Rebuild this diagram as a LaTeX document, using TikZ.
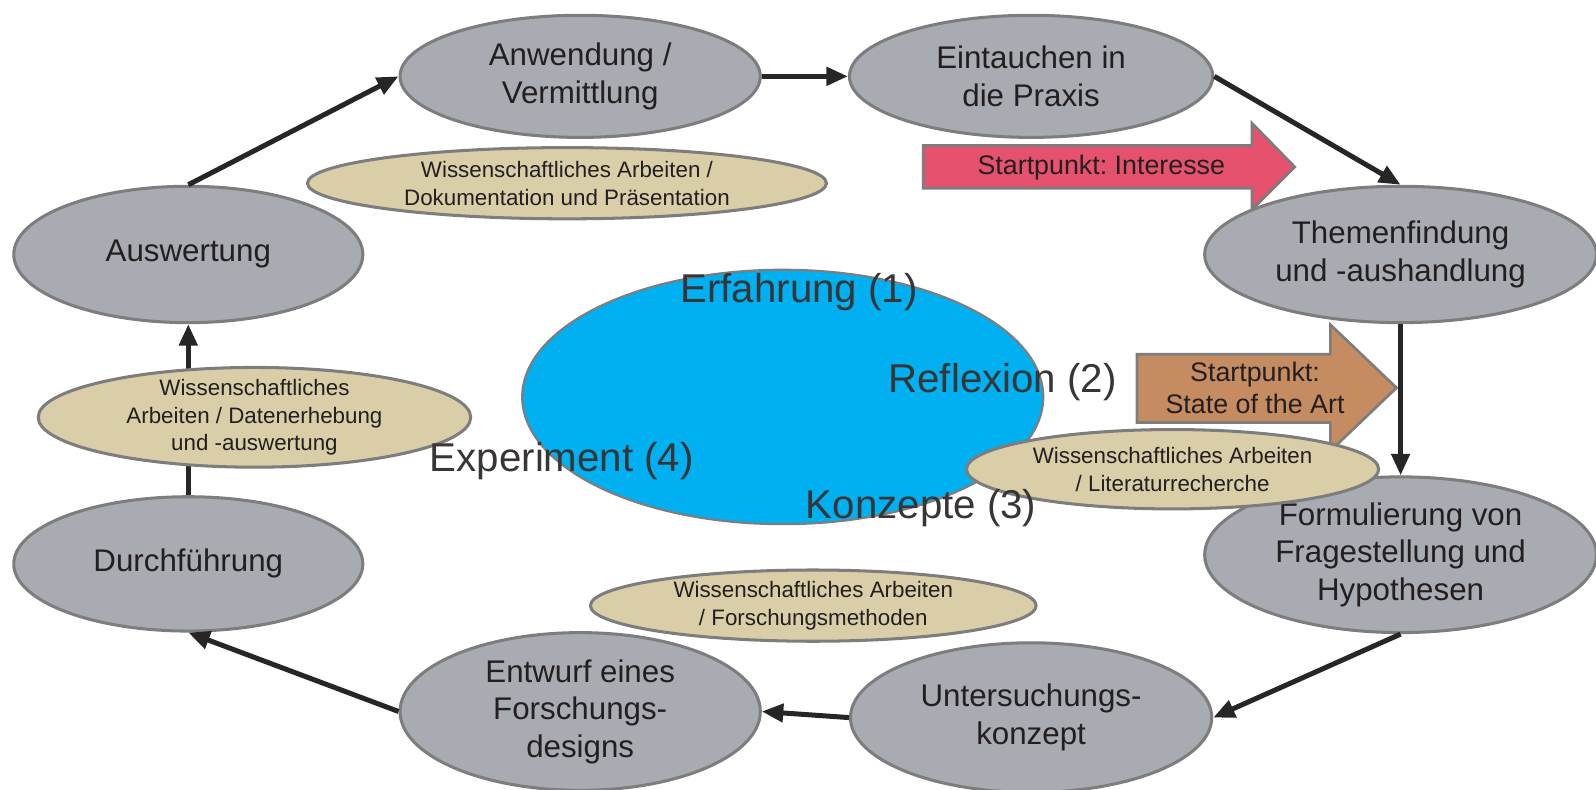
\documentclass[tikz,border=0pt]{standalone}
\usepackage{fontspec}
\setmainfont{Liberation Sans}
\frenchspacing
\usetikzlibrary{shapes.geometric,arrows.meta,positioning}
\definecolor{stepgray}{RGB}{168,171,178}
\definecolor{edgegray}{RGB}{125,125,125}
\definecolor{methodbeige}{RGB}{218,206,168}
\definecolor{cycleblue}{RGB}{0,176,240}
\definecolor{interestpink}{RGB}{230,82,110}
\definecolor{artbrown}{RGB}{196,140,96}
\definecolor{textdark}{RGB}{35,31,32}
\tikzstyle{phase}=[ellipse,draw=edgegray,line width=1.7pt,fill=stepgray,text=textdark,align=center,inner sep=0pt,font=\fontsize{17.5}{21}\selectfont]
\tikzstyle{method}=[ellipse,draw=edgegray,line width=1.7pt,fill=methodbeige,text=textdark,align=center,inner xsep=0pt,inner ysep=-4pt,font=\fontsize{12.5}{15.5}\selectfont]
\tikzstyle{startarrow}=[draw=edgegray,line width=1.5pt]
\tikzstyle{startlabel}=[align=center,text=textdark,font=\fontsize{15}{18}\selectfont]
\tikzstyle{stage}=[text=textdark!90,anchor=base,inner sep=0pt,font=\fontsize{22.5}{27}\selectfont]
\tikzstyle{flow}=[line width=2.8pt,draw=black!85,-{Triangle[length=12pt,width=10pt]}]

\begin{document}
\begin{tikzpicture}[x=0.02cm,y=-0.02cm]
\useasboundingbox (0,0) rectangle (1568,776);
% centre
\node[ellipse,draw=edgegray,line width=1.2pt,fill=cycleblue,minimum width=10.24cm,minimum height=5cm] (kreis) at (769,390) {};
% start points
\draw[startarrow,fill=interestpink] (907,143) -- (1230,143) -- (1230,121) -- (1272,164) -- (1230,206) -- (1230,185) -- (907,185) -- cycle;
\node[startlabel] (interesse) at (1082,165) {Startpunkt: Interesse};
\draw[startarrow,fill=artbrown] (1117,348) -- (1307,348) -- (1307,319) -- (1372,381) -- (1307,443) -- (1307,415) -- (1117,415) -- cycle;
\node[startlabel] (stateart) at (1233,381) {Startpunkt:\\State of the Art};
% phases
\node[phase,minimum width=7.08cm,minimum height=2.4cm] (anwendung) at (570,75) {Anwendung /\\Vermittlung};
\node[phase,minimum width=7.14cm,minimum height=2.4cm] (eintauchen) at (1013,75) {Eintauchen in\\die Praxis};
\node[phase,minimum width=7.7cm,minimum height=2.68cm] (themen) at (1376,250) {Themenfindung\\und -aushandlung};
\node[phase,minimum width=7.7cm,minimum height=3.06cm] (formulierung) at (1376,545) {Formulierung von\\Fragestellung und\\Hypothesen};
\node[phase,minimum width=7.1cm,minimum height=2.94cm] (untersuchung) at (1013,705) {Untersuchungs-\\konzept};
\node[phase,minimum width=7.08cm,minimum height=3.1cm] (entwurf) at (570,699) {Entwurf eines\\Forschungs-\\designs};
\node[phase,minimum width=6.86cm,minimum height=2.64cm] (durchfuehrung) at (185,554) {Durchführung};
\node[phase,minimum width=6.86cm,minimum height=2.68cm] (auswertung) at (185,250) {Auswertung};
% cycle
\draw[flow] (auswertung.north) -- (anwendung.west);
\draw[flow] (anwendung.east) -- (eintauchen.west);
\draw[flow] (eintauchen.east) -- (themen.north);
\draw[flow] (themen.south) -- (formulierung.north);
\draw[flow] (formulierung.south) -- (untersuchung.east);
\draw[flow] (untersuchung.west) -- (entwurf.east);
\draw[flow] (entwurf.west) -- (durchfuehrung.south);
\draw[flow] (durchfuehrung.north) -- (auswertung.south);
% methods
\node[method,minimum width=10.2cm,minimum height=1.4cm] (dokumentation) at (557,180) {Wissenschaftliches Arbeiten /\\Dokumentation und Präsentation};
\node[method,minimum width=8.5cm,minimum height=1.96cm] (datenerhebung) at (250,410) {Wissenschaftliches\\Arbeiten / Datenerhebung\\und -auswertung};
\node[method,minimum width=8.1cm,minimum height=1.56cm] (literatur) at (1152,461) {Wissenschaftliches Arbeiten\\/ Literaturrecherche};
\node[method,minimum width=8.76cm,minimum height=1.4cm] (methoden) at (799,595) {Wissenschaftliches Arbeiten\\/ Forschungsmethoden};
% stages
\node[stage] (erfahrung) at (785,297) {Erfahrung (1)};
\node[stage] (reflexion) at (985,386) {Reflexion (2)};
\node[stage] (experiment) at (552,463) {Experiment (4)};
\node[stage] (konzepte) at (905,509) {Konzepte (3)};
\end{tikzpicture}
\end{document}
